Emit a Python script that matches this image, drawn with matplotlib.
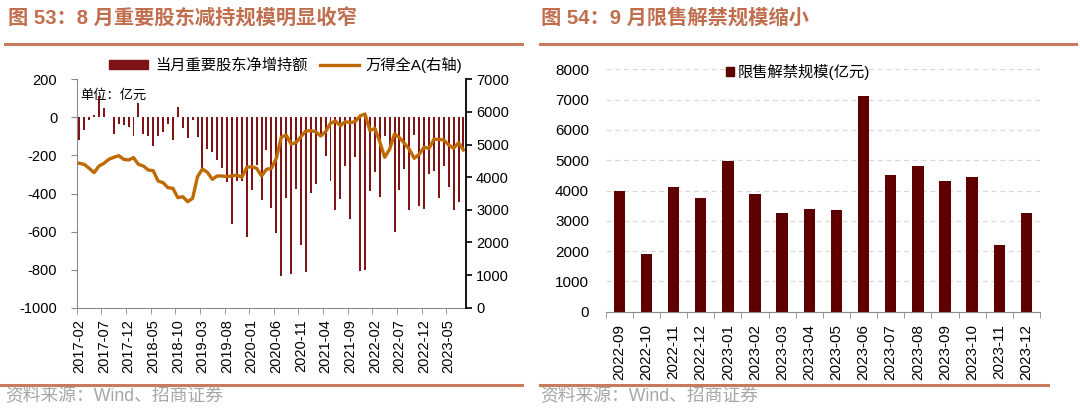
import numpy as np
import pandas as pd
import matplotlib
matplotlib.use("Agg")
import matplotlib.pyplot as plt
from matplotlib.lines import Line2D
from matplotlib.patches import Patch

plt.rcParams['font.family'] = ['Liberation Sans', 'Noto Sans CJK SC', 'DejaVu Sans']
plt.rcParams['axes.unicode_minus'] = False

# ---- left chart data: monthly, 2017-02 .. 2023-08 ----
months = pd.date_range("2017-02-01", "2023-08-01", freq="MS").strftime("%Y-%m").tolist()

net_holding = [  # 当月重要股东净增持额, 亿元
    -118, -65, -12, 10, 110, 50, 3, -85, -35, -39,
    -50, -100, 75, -85, -100, -148, -100, -77, -37, -120,
    54, -56, -110, -12, -105, -265, -167, -180, -223, -267,
    -340, -561, -333, -333, -626, -381, -249, -433, -170, -477,
    -605, -833, -422, -823, -377, -670, -811, -398, -349, -105,
    -205, -332, -489, -430, -258, -535, -210, -805, -801, -389,
    -288, -419, -100, -165, -600, -384, -272, -486, -91, -468,
    -482, -296, -284, -425, -258, -367, -486, -446, -179,
]

wind_a = [  # 万得全A
    4425, 4394, 4272, 4139, 4343, 4425, 4548, 4609, 4660, 4548,
    4527, 4599, 4394, 4343, 4221, 4200, 3883, 3832, 3679, 3658,
    3372, 3402, 3250, 3352, 4016, 4251, 4149, 3935, 4037, 4037,
    4016, 4037, 4067, 3996, 4302, 4323, 4272, 4037, 4241, 4272,
    4578, 5222, 5293, 5017, 5058, 5242, 5416, 5426, 5396, 5263,
    5396, 5651, 5723, 5580, 5702, 5672, 5702, 5876, 5937, 5426,
    5498, 5089, 4609, 4854, 5324, 5212, 5038, 4854, 4578, 4701,
    4915, 4885, 5161, 5161, 5140, 4987, 4885, 5058, 4834,
]

# ---- right chart data ----
unlock_months = ["2022-09", "2022-10", "2022-11", "2022-12", "2023-01", "2023-02",
                 "2023-03", "2023-04", "2023-05", "2023-06", "2023-07", "2023-08",
                 "2023-09", "2023-10", "2023-11", "2023-12"]
unlock_value = [4000, 1900, 4100, 3750, 4980, 3900, 3250, 3400, 3350, 7130,
                4500, 4820, 4330, 4450, 2190, 3250]

W, H = 1080, 412
fig = plt.figure(figsize=(W / 100, H / 100), dpi=100)

title_color = "#C06E4E"
rule_color = "#C97A5E"
bar_red = "#7F1416"
line_orange = "#BF6A00"
grey = "#8A8A8A"


def fx(px):
    return px / W


def fy(py):
    return 1 - py / H


# titles and rules
fig.text(fx(8), fy(18), "图 53：8 月重要股东减持规模明显收窄", fontsize=14.6, fontweight="bold",
         color=title_color, va="center", ha="left")
fig.text(fx(541), fy(18), "图 54：9 月限售解禁规模缩小", fontsize=14.6, fontweight="bold",
         color=title_color, va="center", ha="left")
for x0, x1 in [(5, 522), (540, 1076)]:
    fig.add_artist(Line2D([fx(x0), fx(x1)], [fy(43.5), fy(43.5)], color=rule_color, lw=2.2))
for x0, x1 in [(0, 522), (540, 1048)]:
    fig.add_artist(Line2D([fx(x0), fx(x1)], [fy(384.5), fy(384.5)], color=rule_color, lw=2.2))
fig.text(fx(5), fy(397), "资料来源：Wind、招商证券", fontsize=12.8, color="#A6A6A6",
         va="center", ha="left")
fig.text(fx(540), fy(397), "资料来源：Wind、招商证券", fontsize=12.8, color="#A6A6A6",
         va="center", ha="left")

# ---------------- left chart ----------------
ax = fig.add_axes([fx(76.7), fy(307.7), fx(465.7 - 76.7), (307.7 - 79.3) / H])
x = np.arange(len(months))
ax.bar(x, net_holding, width=0.4, color=bar_red, zorder=2)
ax.set_xlim(-0.53, len(months) - 1 + 0.45)
ax.set_ylim(-1000, 200)
ax.set_yticks(np.arange(-1000, 201, 200))
ax.tick_params(axis="y", labelsize=10.5, direction="out", length=4, color=grey, pad=10)
ax.set_xticks(x[::5])
ax.set_xticklabels(months[::5], rotation=90, fontsize=10.5)
ax.set_xticks(x[::5] - 0.5, minor=True)
ax.tick_params(axis="x", which="major", length=0, pad=8)
ax.tick_params(axis="x", which="minor", length=4, color=grey, direction="out")
for s in ["top", "right"]:
    ax.spines[s].set_visible(False)
ax.spines["left"].set_color(grey)
ax.spines["bottom"].set_color(grey)
ax.text(0.008, 0.93, "单位：亿元", transform=ax.transAxes, fontsize=9.5, va="center", ha="left")

ax2 = ax.twinx()
ax2.plot(x, wind_a, color=line_orange, lw=2.4, solid_joinstyle="round")
ax2.set_ylim(0, 7000)
ax2.set_yticks(np.arange(0, 7001, 1000))
ax2.tick_params(axis="y", labelsize=10.5, direction="out", length=4, color="black", width=1.2)
for s in ["top", "left", "bottom"]:
    ax2.spines[s].set_visible(False)
ax2.spines["right"].set_color("black")
ax2.spines["right"].set_linewidth(1.3)

handles = [Patch(color=bar_red), Line2D([0], [0], color=line_orange, lw=2.4)]
fig.legend(handles, ["当月重要股东净增持额", "万得全A(右轴)"], loc="center",
           bbox_to_anchor=(fx(286), fy(65)), ncol=2, frameon=False, fontsize=11,
           handlelength=2.55, handleheight=0.55, handletextpad=0.45, columnspacing=0.8,
           borderpad=0.1)

# ---------------- right chart ----------------
bx = fig.add_axes([fx(605.7), fy(311.7), fx(1040 - 605.7), (311.7 - 69.3) / H])
xr = np.arange(len(unlock_months))
bx.bar(xr, unlock_value, width=0.42, color="#5E0000", zorder=2)
bx.set_xlim(-0.5, len(unlock_months) - 0.5)
bx.set_ylim(0, 8000)
bx.set_yticks(np.arange(0, 8001, 1000))
bx.yaxis.grid(True, color="#D9D9D9", linestyle=(0, (4, 3)), lw=0.9)
bx.set_axisbelow(True)
bx.tick_params(axis="y", labelsize=11, length=0, pad=12)
bx.set_xticks(xr)
bx.set_xticklabels(unlock_months, rotation=90, fontsize=11)
bx.set_xticks(np.arange(-0.5, len(unlock_months)), minor=True)
bx.tick_params(axis="x", which="major", length=0, pad=9)
bx.tick_params(axis="x", which="minor", length=4, color=grey, direction="out")
for s in ["top", "left", "right"]:
    bx.spines[s].set_visible(False)
bx.spines["bottom"].set_color(grey)

fig.legend([Patch(color="#5E0000")], ["限售解禁规模(亿元)"], loc="center",
           bbox_to_anchor=(fx(798), fy(72)), frameon=False, fontsize=11,
           handlelength=0.55, handleheight=0.55, handletextpad=0.2, borderpad=0.1)

fig.savefig("out.png", dpi=100)
